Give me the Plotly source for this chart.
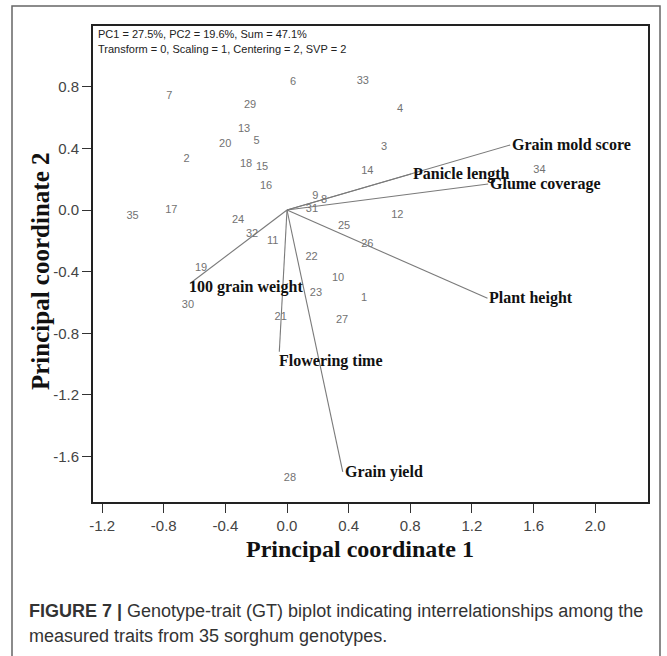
import plotly.graph_objects as go

# ---------------- data ----------------
genotypes = [str(i) for i in range(1, 36)]
pc1 = [0.500, -0.651, 0.630, 0.734, -0.197, 0.039, -0.764, 0.240, 0.184, 0.331,
       -0.093, 0.716, -0.279, 0.521, -0.162, -0.136, -0.751, -0.266, -0.558, -0.401,
       -0.041, 0.159, 0.188, -0.318, 0.370, 0.521, 0.357, 0.019, -0.240, -0.643,
       0.162, -0.227, 0.492, 1.638, -1.002]
pc2 = [-0.571, 0.331, 0.407, 0.654, 0.446, 0.831, 0.740, 0.065, 0.091, -0.442,
       -0.203, -0.034, 0.526, 0.251, 0.277, 0.156, 0.000, 0.294, -0.377, 0.424,
       -0.693, -0.307, -0.537, -0.065, -0.108, -0.221, -0.714, -1.740, 0.677, -0.615,
       0.008, -0.160, 0.838, 0.260, -0.039]

traits = ["Grain mold score", "Panicle length", "Glume coverage", "Plant height",
          "Grain yield", "Flowering time", "100 grain weight"]
trait_pc1 = [1.448, 0.805, 1.305, 1.301, 0.362, -0.050, -0.630]
trait_pc2 = [0.422, 0.234, 0.169, -0.573, -1.699, -0.920, -0.477]

x_ticks = [-1.2, -0.8, -0.4, 0.0, 0.4, 0.8, 1.2, 1.6, 2.0]
x_tick_labels = ["-1.2", "-0.8", "-0.4", "0.0", "0.4", "0.8", "1.2", "1.6", "2.0"]
y_ticks = [-1.6, -1.2, -0.8, -0.4, 0.0, 0.4, 0.8]
y_tick_labels = ["-1.6", "-1.2", "-0.8", "-0.4", "0.0", "0.4", "0.8"]

header_lines = ["PC1 = 27.5%, PC2 = 19.6%, Sum = 47.1%",
                "Transform = 0, Scaling = 1, Centering = 2, SVP = 2"]
x_title = "Principal coordinate 1"
y_title = "Principal coordinate 2"
caption_lines = ["<b>FIGURE 7 |</b> Genotype-trait (GT) biplot indicating interrelationships among the",
                 "measured traits from 35 sorghum genotypes."]

# ---------------- layout geometry ----------------
W, H = 667, 656
L, R, T, B = 93, 648, 26, 502
def px_x(px):
    return (px - L) / (R - L)
def px_y(py):
    return (B - py) / (B - T)

label_shift = {"Flowering time": (-2, -9), "100 grain weight": (-3, -3)}

fig = go.Figure()

# trait vectors
vx, vy = [], []
for tx, ty in zip(trait_pc1, trait_pc2):
    vx += [0, tx, None]
    vy += [0, ty, None]
fig.add_trace(go.Scatter(x=vx, y=vy, mode="lines",
                         line=dict(color="#7a7a7a", width=1.1),
                         hoverinfo="skip", showlegend=False))

# genotype labels
fig.add_trace(go.Scatter(x=pc1, y=pc2, mode="text", text=genotypes,
                         textposition="middle center",
                         textfont=dict(family="Liberation Sans, Arial", size=11, color="#727272"),
                         showlegend=False))

annotations = []
for name, tx, ty in zip(traits, trait_pc1, trait_pc2):
    dx, dy = label_shift.get(name, (0, 0))
    annotations.append(dict(x=tx, y=ty, xref="x", yref="y", text="<b>%s</b>" % name,
                            showarrow=False, xanchor="left", yanchor="middle",
                            xshift=dx, yshift=dy,
                            font=dict(family="Liberation Serif, Times New Roman", size=16, color="#111")))

for i, line in enumerate(header_lines):
    annotations.append(dict(x=px_x(96), y=px_y(34 + i * 14.5), xref="paper", yref="paper",
                            text=line, showarrow=False, xanchor="left", yanchor="middle",
                            font=dict(family="Liberation Sans, Arial", size=11, color="#222")))

annotations.append(dict(x=px_x(360), y=px_y(549), xref="paper", yref="paper",
                        text="<b>%s</b>" % x_title, showarrow=False,
                        xanchor="center", yanchor="middle",
                        font=dict(family="Liberation Serif, Times New Roman", size=24, color="#111")))
annotations.append(dict(x=px_x(40), y=px_y(272), xref="paper", yref="paper",
                        text="<b>%s</b>" % y_title, showarrow=False, textangle=-90,
                        xanchor="center", yanchor="middle",
                        font=dict(family="Liberation Serif, Times New Roman", size=25, color="#111")))

for i, line in enumerate(caption_lines):
    annotations.append(dict(x=px_x(27), y=px_y(611 + i * 25), xref="paper", yref="paper",
                            text=line, showarrow=False, xanchor="left", yanchor="middle",
                            font=dict(family="Liberation Sans, Arial", size=18, color="#333")))

fig.update_layout(
    width=W, height=H, autosize=False,
    margin=dict(l=L, r=W - R, t=T, b=H - B, pad=0),
    paper_bgcolor="white", plot_bgcolor="white",
    annotations=annotations,
    shapes=[dict(type="rect", xref="paper", yref="paper",
                 x0=px_x(12), x1=px_x(660), y0=px_y(700), y1=px_y(6),
                 line=dict(color="#666", width=1.5), layer="below")],
    xaxis=dict(range=[(L - 287) / 154.1, (R - 287) / 154.1],
               tickvals=x_ticks, ticktext=x_tick_labels,
               showgrid=False, zeroline=False, showline=True, mirror=True,
               linecolor="#222", linewidth=2, ticks="outside", ticklen=9,
               tickwidth=1.3, tickcolor="#333",
               tickfont=dict(family="Liberation Sans, Arial", size=15, color="#444")),
    yaxis=dict(range=[(210 - B) / 154.1, (210 - T) / 154.1],
               tickvals=y_ticks, ticktext=y_tick_labels,
               showgrid=False, zeroline=False, showline=True, mirror=True,
               linecolor="#222", linewidth=2, ticks="outside", ticklen=9,
               tickwidth=1.3, tickcolor="#333",
               tickfont=dict(family="Liberation Sans, Arial", size=15, color="#444")),
    hovermode=False,
)

fig.write_html("out.html",
               config={"displayModeBar": False},
               post_script="document.body.style.margin='0';document.body.style.overflow='hidden';")
